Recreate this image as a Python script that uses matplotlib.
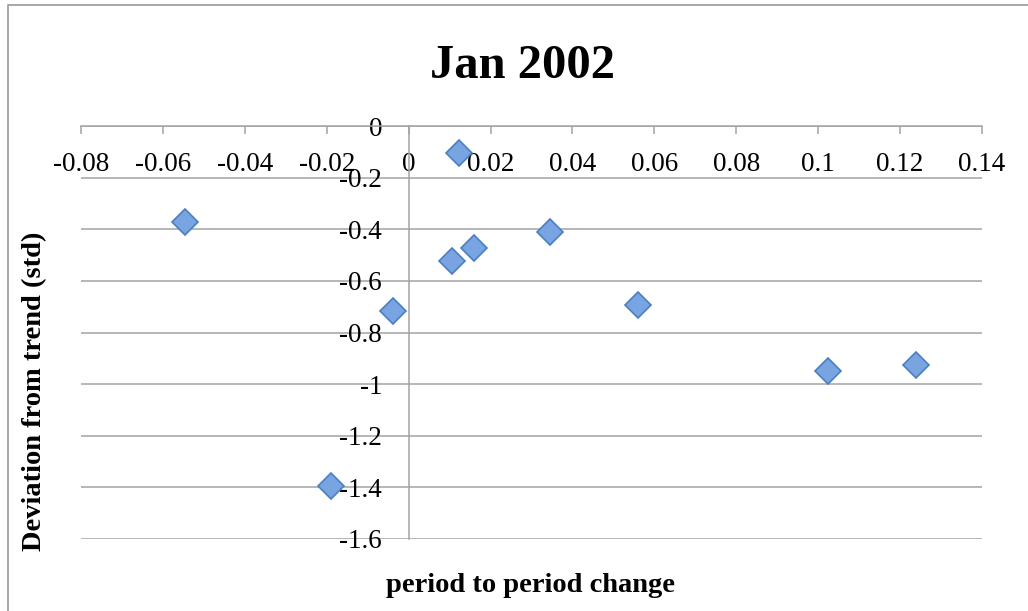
import matplotlib.pyplot as plt
from matplotlib.lines import Line2D

# values
x_change = [-0.0546, -0.0190, -0.0039, 0.0122, 0.0107, 0.0159, 0.0344, 0.0559, 0.1024, 0.1238]
y_dev = [-0.373, -1.395, -0.715, -0.105, -0.523, -0.473, -0.410, -0.695, -0.948, -0.925]

x_ticks = [-0.08, -0.06, -0.04, -0.02, 0, 0.02, 0.04, 0.06, 0.08, 0.1, 0.12, 0.14]
x_labels = ["-0.08", "-0.06", "-0.04", "-0.02", "0", "0.02", "0.04", "0.06", "0.08", "0.1", "0.12", "0.14"]
y_ticks = [0, -0.2, -0.4, -0.6, -0.8, -1, -1.2, -1.4, -1.6]
y_labels = ["0", "-0.2", "-0.4", "-0.6", "-0.8", "-1", "-1.2", "-1.4", "-1.6"]

W, H = 1028, 611
SERIF = ["Liberation Serif", "DejaVu Serif"]
GRID = "#a3a3a3"


def main():
    fig = plt.figure(figsize=(W / 100, H / 100), dpi=100)
    # plot area in pixels: x 81..982, y 126..539
    left, right, top, bottom = 81, 982, 126, 539
    ax = fig.add_axes([left / W, 1 - bottom / H, (right - left) / W, (bottom - top) / H])

    ax.set_xlim(-0.08, 0.14)
    ax.set_ylim(-1.6, 0)

    # Excel style: axes cross at (0, 0)
    ax.spines["bottom"].set_position(("data", 0))
    ax.spines["left"].set_position(("data", 0))
    ax.spines["top"].set_visible(False)
    ax.spines["right"].set_visible(False)
    for s in ("bottom", "left"):
        ax.spines[s].set_color(GRID)
        ax.spines[s].set_linewidth(1.1)

    ax.set_xticks(x_ticks)
    ax.set_xticklabels(x_labels, fontfamily=SERIF, fontsize=19.5)
    ax.set_yticks(y_ticks)
    ax.set_yticklabels(y_labels, fontfamily=SERIF, fontsize=19.5, va="center_baseline")
    ax.tick_params(axis="x", direction="out", length=6, width=1.1, color=GRID, pad=12.5)
    ax.tick_params(axis="y", direction="out", length=0, width=1.1, color=GRID, pad=19)

    ax.yaxis.grid(True, color=GRID, linewidth=1.1)
    ax.set_axisbelow(True)

    ax.plot(x_change, y_dev, linestyle="none", marker="D", markersize=13.5,
            markerfacecolor="#78a5e2", markeredgecolor="#4a7fc0", markeredgewidth=1.2,
            zorder=3, clip_on=False)

    ax.set_xlabel("period to period change", fontfamily=SERIF, fontsize=20.5, fontweight="bold")
    ax.xaxis.label.set_va("center")
    ax.xaxis.set_label_coords((530 - left) / (right - left), (bottom - 585) / (bottom - top))
    ax.set_ylabel("Deviation from trend (std)", fontfamily=SERIF, fontsize=20.5, fontweight="bold")
    ax.yaxis.label.set_va("center")
    ax.yaxis.set_label_coords((35 - left) / (right - left), (bottom - 391) / (bottom - top))

    fig.text(522 / W, 1 - 78 / H, "Jan 2002", ha="center", va="baseline",
             fontfamily=SERIF, fontsize=35, fontweight="bold")

    # chart frame (left and top edges visible)
    fig.add_artist(Line2D([7.5 / W, 7.5 / W, 1.0], [0.0, 1 - 4.5 / H, 1 - 4.5 / H],
                          transform=fig.transFigure, color="#a0a0a0", linewidth=1.3))

    fig.savefig("out.png", dpi=100)


if __name__ == "__main__":
    main()
